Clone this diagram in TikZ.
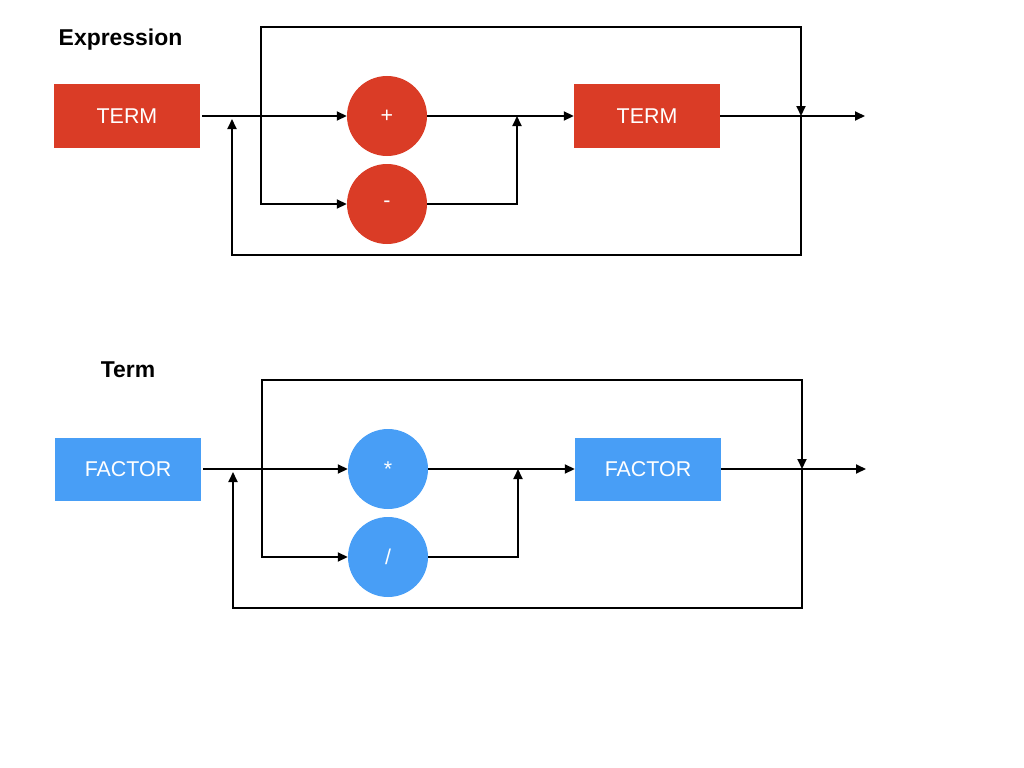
\documentclass[tikz,border=0pt]{standalone}
\usepackage{fontspec}
\setmainfont{Liberation Sans}
\usetikzlibrary{arrows.meta}
\definecolor{kred}{RGB}{218,60,38}
\definecolor{kblue}{RGB}{72,158,246}
\tikzset{
  boxnode/.style={rectangle, draw=none, minimum width=146bp, minimum height=63bp, inner sep=0pt, text=white, font=\fontsize{21.5}{25}\selectfont},
  opnode/.style={circle, draw=none, minimum size=80bp, inner sep=0pt, text=white, font=\fontsize{21.5}{25}\selectfont},
  titlenode/.style={inner sep=0pt, font=\fontsize{23}{27}\selectfont\bfseries},
  wire/.style={draw=black, line width=1.8bp},
  arr/.style={wire, -{Triangle[length=10bp,width=9bp]}},
}
\begin{document}
\begin{tikzpicture}[x=1bp,y=-1bp]
\useasboundingbox (0,0) rectangle (1024,768);
% ---------- Expression ----------
\node[titlenode] (t1) at (120.5,40) {Expression};
\node[boxnode, fill=kred] (a1) at (127,116) {TERM};
\node[opnode, fill=kred] (plus) at (387,116) {+};
\node[opnode, fill=kred] (minus) at (387,204) {-};
\node[boxnode, fill=kred] (a2) at (647,116) {TERM};
\coordinate (s1) at (261,116);
\coordinate (s1t) at (261,27);
\coordinate (m1t) at (801,27);
\coordinate (m1) at (801,116);
\coordinate (m1b) at (801,255);
\coordinate (b1l) at (232,255);
\coordinate (b1) at (232,116);
\coordinate (j1) at (517,116);
\coordinate (o1) at (865,116);
\draw[arr] ([xshift=2bp]a1.east) -- (plus.west);
\draw[arr] (s1) |- (minus.west);
\draw[arr] (s1) -- (s1t) -- (m1t) -- (m1);
\draw[arr] (plus.east) -- (a2.west);
\draw[arr] (minus.east) -| (j1);
\draw[arr] (a2.east) -- (o1);
\draw[arr, shorten >=3bp] (m1) -- (m1b) -- (b1l) -- (b1);
% ---------- Term ----------
\node[titlenode] (t2) at (128,370) {Term};
\node[boxnode, fill=kblue] (f1) at (128,469) {FACTOR};
\node[opnode, fill=kblue] (mul) at (388,469) {*};
\node[opnode, fill=kblue] (dv) at (388,557) {/};
\node[boxnode, fill=kblue] (f2) at (648,469) {FACTOR};
\coordinate (s2) at (262,469);
\coordinate (s2t) at (262,380);
\coordinate (m2t) at (802,380);
\coordinate (m2) at (802,469);
\coordinate (m2b) at (802,608);
\coordinate (b2l) at (233,608);
\coordinate (b2) at (233,469);
\coordinate (j2) at (518,469);
\coordinate (o2) at (866,469);
\draw[arr] ([xshift=2bp]f1.east) -- (mul.west);
\draw[arr] (s2) |- (dv.west);
\draw[arr] (s2) -- (s2t) -- (m2t) -- (m2);
\draw[arr] (mul.east) -- (f2.west);
\draw[arr] (dv.east) -| (j2);
\draw[arr] (f2.east) -- (o2);
\draw[arr, shorten >=3bp] (m2) -- (m2b) -- (b2l) -- (b2);
\end{tikzpicture}
\end{document}
